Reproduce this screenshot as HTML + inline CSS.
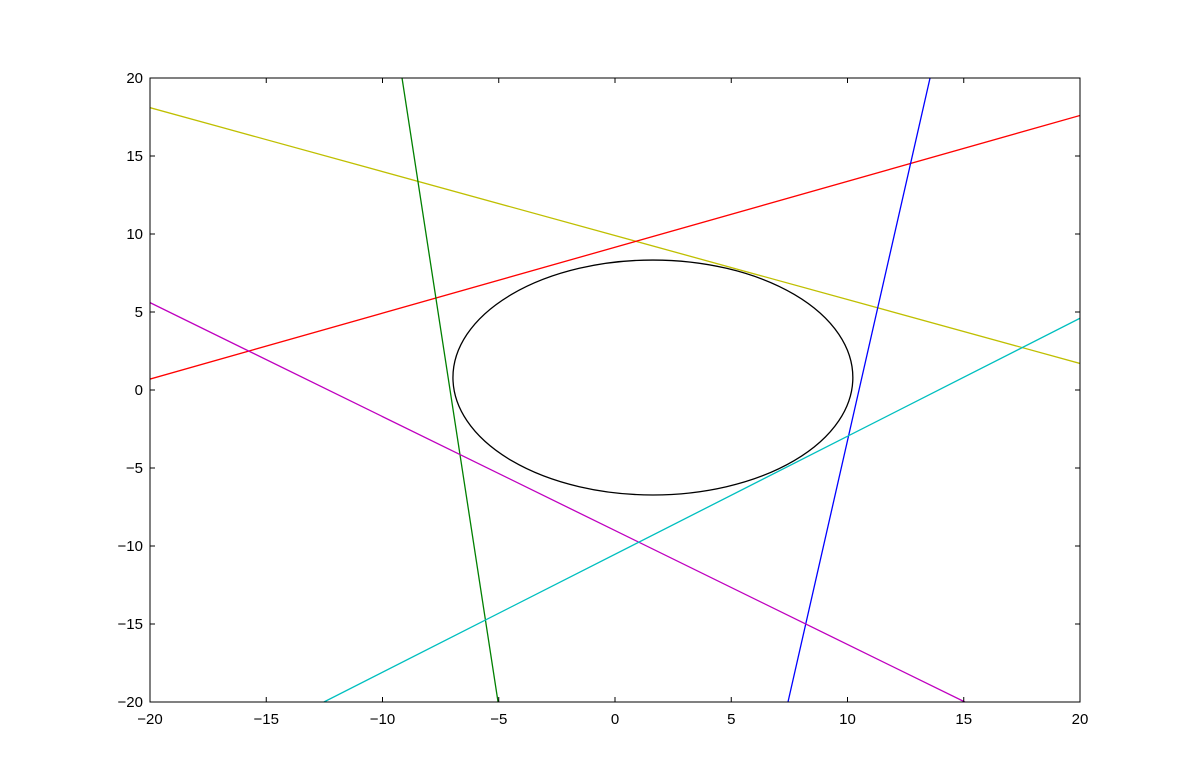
<!DOCTYPE html>
<html><head><meta charset="utf-8">
<style>
html,body{margin:0;padding:0;background:#fff;}
svg{display:block;font-family:"Liberation Sans","DejaVu Sans",sans-serif;}
</style></head>
<body>
<svg id="chart" width="1200" height="780" viewBox="0 0 1200 780" xmlns="http://www.w3.org/2000/svg">
<rect width="1200" height="780" fill="#fff"/>
<defs><clipPath id="plotclip"><rect x="150" y="78" width="930" height="624"/></clipPath></defs>
<g id="marks" clip-path="url(#plotclip)"></g>
<g id="axes"></g>
</svg>
<script>
const xTicks = [-20,-15,-10,-5,0,5,10,15,20];
const yTicks = [-20,-15,-10,-5,0,5,10,15,20];
const lineNames = ['yellow-line','red-line','green-line','blue-line','magenta-line','cyan-line'];
const lineColors = ['#bfbf00','#ff0000','#008000','#0000ff','#bf00bf','#00bfbf'];
const lineX1 = [-20, -20, -9.16, 7.44, -20, -12.52];
const lineY1 = [18.1, 0.7, 20, -20, 5.6, -20];
const lineX2 = [20, 20, -5.03, 13.55, 15.05, 20];
const lineY2 = [1.7, 17.6, -20, 20, -20, 4.6];
const ellipseCenter = [1.63, 0.8];
const ellipseRadii = [8.6, 7.53];

const L=150,R=1080,T=78,B=702;
const sx=v=>L+(v+20)/40*(R-L);
const sy=v=>B-(v+20)/40*(B-T);
const NS='http://www.w3.org/2000/svg';
const marks=document.getElementById('marks'), axes=document.getElementById('axes');
function mk(tag,attrs,parent){const e=document.createElementNS(NS,tag);for(const k in attrs)e.setAttribute(k,attrs[k]);parent.appendChild(e);return e;}

const el=mk('ellipse',{cx:sx(ellipseCenter[0]),cy:sy(ellipseCenter[1]),rx:ellipseRadii[0]*(R-L)/40,ry:ellipseRadii[1]*(B-T)/40,fill:'none',stroke:'#000','stroke-width':1.3},marks);



for(let i=0;i<lineNames.length;i++){
  const ln=mk('line',{x1:sx(lineX1[i]),y1:sy(lineY1[i]),x2:sx(lineX2[i]),y2:sy(lineY2[i]),stroke:lineColors[i],'stroke-width':1.3},marks);
  
  
}

const fr=mk('rect',{x:L,y:T,width:R-L,height:B-T,fill:'none',stroke:'#000','stroke-width':1},axes);



xTicks.forEach(v=>{
  const x=sx(v);
  mk('line',{x1:x,y1:B,x2:x,y2:B-5,stroke:'#000'},axes);
  mk('line',{x1:x,y1:T,x2:x,y2:T+5,stroke:'#000'},axes);
  const t=mk('text',{x:x,y:B+22,'text-anchor':'middle','font-size':15},axes);
  t.textContent=(v<0?'\u2212'+(-v):v);
  
  
});
yTicks.forEach(v=>{
  const y=sy(v);
  mk('line',{x1:L,y1:y,x2:L+5,y2:y,stroke:'#000'},axes);
  mk('line',{x1:R,y1:y,x2:R-5,y2:y,stroke:'#000'},axes);
  const t=mk('text',{x:L-7,y:y+5,'text-anchor':'end','font-size':15},axes);
  t.textContent=(v<0?'\u2212'+(-v):v);
  
  
});
</script>
</body></html>
